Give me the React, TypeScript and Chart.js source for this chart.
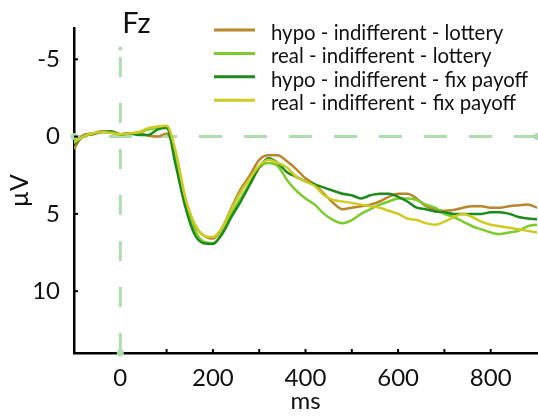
import React, { useEffect, useRef } from "react";
import { Chart, registerables } from "chart.js";

Chart.register(...registerables);

// time points (ms)
const times = [
  -100, -80, -60, -40, -20, 0, 20, 40, 60, 80, 100, 120, 140, 160, 180, 200,
  220, 240, 260, 280, 300, 320, 340, 360, 380, 400, 420, 440, 460, 480, 500,
  520, 540, 560, 580, 600, 620, 640, 660, 680, 700, 720, 740, 760, 780, 800,
  820, 840, 860, 880, 900,
];

// µV values
const hypoLottery = [
  0.8, -0.1, -0.2, -0.35, -0.25, -0.15, -0.2, -0.25, -0.05, 0.0, -0.2, 1.2,
  4.0, 5.7, 6.4, 6.6, 5.9, 4.6, 3.4, 2.5, 1.5, 1.2, 1.2, 1.6, 2.1, 2.7, 3.1,
  3.7, 4.3, 4.7, 4.6, 4.5, 4.4, 4.2, 3.9, 3.7, 3.7, 4.0, 4.5, 4.7, 4.8, 4.75,
  4.6, 4.5, 4.5, 4.6, 4.6, 4.5, 4.45, 4.4, 4.6,
];
const realLottery = [
  0.3, 0.0, -0.2, -0.3, -0.25, -0.15, -0.2, -0.25, -0.45, -0.55, -0.6, 1.4,
  4.2, 6.0, 6.8, 6.9, 6.2, 5.0, 4.0, 3.0, 2.0, 1.7, 1.9, 2.8, 3.5, 4.0, 4.4,
  5.0, 5.4, 5.6, 5.4, 5.0, 4.7, 4.4, 4.2, 4.0, 4.0, 4.1, 4.4, 4.6, 5.0, 5.2,
  5.5, 5.8, 6.0, 6.2, 6.3, 6.2, 6.1, 5.8, 5.7,
];
const hypoFix = [
  0.5, 0.0, -0.15, -0.3, -0.35, -0.15, -0.2, -0.1, -0.1, -0.45, -0.55, 1.9,
  4.5, 6.3, 6.9, 6.95, 6.3, 5.2, 4.2, 3.1, 2.0, 1.4, 1.7, 2.3, 2.6, 2.9, 3.1,
  3.3, 3.5, 3.7, 3.8, 4.0, 3.8, 3.7, 3.7, 3.9, 4.2, 4.6, 4.7, 4.85, 4.9, 5.0,
  5.0, 5.0, 5.0, 4.9, 4.9, 5.0, 5.2, 5.3, 5.35,
];
const realFix = [
  0.4, 0.0, -0.2, -0.3, -0.25, -0.15, -0.2, -0.3, -0.55, -0.65, -0.7, 1.0,
  3.9, 5.6, 6.4, 6.5, 5.9, 4.7, 3.6, 2.7, 1.9, 1.5, 1.7, 2.0, 2.6, 2.9, 3.2,
  3.8, 4.1, 4.2, 4.3, 4.4, 4.5, 4.6, 4.8, 5.0, 5.3, 5.4, 5.6, 5.7, 5.5, 5.2,
  5.0, 5.2, 5.5, 5.7, 5.8, 5.9, 6.0, 6.1, 6.2,
];

const seriesLabels = [
  "hypo - indifferent - lottery",
  "real - indifferent - lottery",
  "hypo - indifferent - fix payoff",
  "real - indifferent - fix payoff",
];
const seriesValues = [hypoLottery, realLottery, hypoFix, realFix];
const seriesColors = ["#B8862C", "#7BCB2A", "#1C8A1C", "#CFCB22"];
const seriesOrder = [3, 2, 1, 0];

const yTickValues = [-5, 0, 5, 10];
const xTickValues = [0, 200, 400, 600, 800];
const xMinorTickValues = [100, 200, 300, 400, 500, 600, 700, 800];
const titleText = "Fz";
const xTitle = "ms";
const yTitle = "µV";

const FONT = "Lato, 'Open Sans', sans-serif";

export default function App() {
  const ref = useRef<HTMLCanvasElement>(null);

  useEffect(() => {
    document.body.style.margin = "0";
    const canvas = ref.current;
    if (!canvas) return;

    const refLines = {
      id: "refLines",
      beforeDatasetsDraw(chart: any) {
        const { ctx, scales } = chart;
        const xs = scales.x;
        const ys = scales.y;
        const color = "#AEDCAE";
        ctx.save();
        ctx.strokeStyle = color;
        ctx.fillStyle = color;
        ctx.lineWidth = 3;
        const y0 = ys.getPixelForValue(0);
        const xl = xs.getPixelForValue(xs.min);
        const xr = xs.getPixelForValue(xs.max);
        ctx.setLineDash([23, 22]);
        ctx.beginPath();
        ctx.moveTo(xr, y0);
        ctx.lineTo(xl, y0);
        ctx.stroke();
        const x0 = xs.getPixelForValue(0);
        const yb = ys.getPixelForValue(ys.max);
        const yt = ys.getPixelForValue(-5.7);
        ctx.setLineDash([20, 26]);
        ctx.beginPath();
        ctx.moveTo(x0, yb);
        ctx.lineTo(x0, yt);
        ctx.stroke();
        ctx.setLineDash([]);
        for (const [px, py, r] of [
          [xl, y0, 3.5],
          [xr, y0, 3.5],
          [x0, yb, 3.5],
          [x0, yt, 2],
        ]) {
          ctx.beginPath();
          ctx.arc(px, py, r, 0, Math.PI * 2);
          ctx.fill();
        }
        ctx.restore();
      },
    };

    const decor = {
      id: "decor",
      afterDraw(chart: any) {
        const { ctx, scales, chartArea } = chart;
        const xs = scales.x;
        const ys = scales.y;
        ctx.save();
        ctx.strokeStyle = "#000";
        ctx.lineWidth = 2;
        for (const v of yTickValues) {
          const py = ys.getPixelForValue(v);
          ctx.beginPath();
          ctx.moveTo(chartArea.left, py);
          ctx.lineTo(chartArea.left + 4, py);
          ctx.stroke();
        }
        for (const v of xMinorTickValues) {
          const px = xs.getPixelForValue(v);
          ctx.beginPath();
          ctx.moveTo(px, chartArea.bottom);
          ctx.lineTo(px, chartArea.bottom - 4);
          ctx.stroke();
        }
        ctx.fillStyle = "#111";
        ctx.font = `29px ${FONT}`;
        ctx.textAlign = "left";
        ctx.textBaseline = "alphabetic";
        ctx.fillText(titleText, xs.getPixelForValue(0) + 2, 33);
        ctx.font = `20.4px ${FONT}`;
        chart.data.datasets.forEach((ds: any, i: number) => {
          const base = 40 + i * 23.4;
          ctx.strokeStyle = ds.borderColor;
          ctx.lineWidth = 3;
          ctx.beginPath();
          ctx.moveTo(214, base - 10);
          ctx.lineTo(255, base - 10);
          ctx.stroke();
          ctx.fillStyle = "#111";
          ctx.fillText(ds.label, 271, base);
        });
        ctx.restore();
      },
    };

    const chart = new Chart(canvas, {
      type: "line",
      data: {
        datasets: seriesLabels.map((label, i) => ({
          label,
          data: times.map((t, j) => ({ x: t, y: seriesValues[i][j] })),
          borderColor: seriesColors[i],
          backgroundColor: seriesColors[i],
          borderWidth: 2.5,
          pointRadius: 0,
          cubicInterpolationMode: "monotone" as const,
          order: seriesOrder[i],
        })),
      },
      options: {
        responsive: false,
        animation: false,
        layout: { padding: { top: 27, right: 1, left: 0, bottom: 0 } },
        plugins: {
          legend: { display: false },
          title: { display: false },
          tooltip: { enabled: false },
        },
        scales: {
          x: {
            type: "linear",
            min: -100,
            max: 900,
            afterBuildTicks: (s: any) => {
              s.ticks = xTickValues.map((v) => ({ value: v }));
            },
            afterFit: (s: any) => {
              s.height = 63;
            },
            grid: { display: true, drawOnChartArea: false, drawTicks: false },
            border: { display: true, color: "#000", width: 2.5 },
            ticks: {
              font: { family: FONT, size: 24 },
              color: "#111",
              padding: 11,
              maxRotation: 0,
              autoSkip: false,
            },
            title: {
              display: true,
              text: xTitle,
              font: { family: FONT, size: 24 },
              color: "#111",
              padding: 0,
            },
          },
          y: {
            type: "linear",
            reverse: true,
            min: -7,
            max: 14,
            afterBuildTicks: (s: any) => {
              s.ticks = yTickValues.map((v) => ({ value: v }));
            },
            afterFit: (s: any) => {
              s.width = 74;
            },
            grid: { display: true, drawOnChartArea: false, drawTicks: false },
            border: { display: true, color: "#000", width: 2.5 },
            ticks: {
              font: { family: FONT, size: 24 },
              color: "#111",
              padding: 14,
            },
            title: {
              display: true,
              text: yTitle,
              font: { family: FONT, size: 25 },
              color: "#111",
              padding: { top: 5, bottom: 0 },
            },
          },
        },
      },
      plugins: [refLines, decor],
    });

    return () => chart.destroy();
  }, []);

  return (
    <div style={{ position: "absolute", left: 0, top: 0, width: 538, height: 416 }}>
      <canvas ref={ref} width={538} height={416} style={{ width: 538, height: 416 }} />
    </div>
  );
}
